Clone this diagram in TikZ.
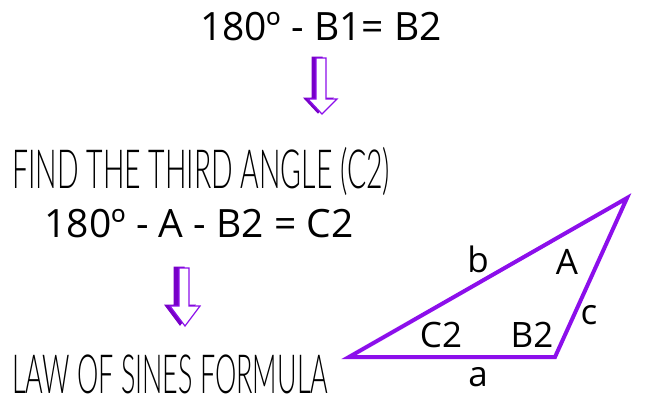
\documentclass[tikz,border=0pt]{standalone}
\usepackage{fontspec}
\setmainfont{Open Sans}
\newfontfamily\handfont{Lato Light}
\definecolor{vio}{RGB}{140,15,235}
\definecolor{viodark}{RGB}{120,0,200}
\tikzset{
  eqtext/.style={font=\fontsize{39bp}{44bp}\selectfont, anchor=base, inner sep=0pt},
  handtext/.style={font=\handfont\fontsize{54bp}{60bp}\selectfont, anchor=base west, inner sep=0pt},
  lbl/.style={font=\fontsize{35bp}{40bp}\selectfont, inner sep=0pt},
  tri/.style={draw=vio, line width=4bp, line join=miter},
  arrowfg/.style={fill=white, draw=vio, line width=1.2bp, line join=miter},
  arrowbg/.style={fill=viodark, draw=viodark, line width=1bp, line join=miter}
}
\begin{document}
\begin{tikzpicture}[x=1bp,y=-1bp]
\useasboundingbox (0,0) rectangle (646,412);
% texts
\node[eqtext] (eq1) at (321,40) {180º - B1= B2};
\node[handtext] (h1) at (12,188) {\resizebox{378bp}{\height}{FIND THE THIRD ANGLE (C2)}};
\node[eqtext] (eq2) at (199,237) {180º - A - B2 = C2};
\node[handtext] (h2) at (12,393) {\resizebox{316bp}{\height}{LAW OF SINES FORMULA}};
% arrow 1
\begin{scope}[shift={(-4,-1)}]
\path[arrowbg] (316,58) -- (326,58) -- (326,99) -- (337,99) -- (322,114) -- (308,99) -- (316,99) -- cycle;
\end{scope}
\path[arrowfg] (316,58) -- (326,58) -- (326,99) -- (337,99) -- (322,114) -- (308,99) -- (316,99) -- cycle;
% arrow 2
\begin{scope}[shift={(-5,-1)}]
\path[arrowbg] (179,268) -- (189,268) -- (189,306) -- (200,306) -- (185,326) -- (170,306) -- (179,306) -- cycle;
\end{scope}
\path[arrowfg] (179,268) -- (189,268) -- (189,306) -- (200,306) -- (185,326) -- (170,306) -- (179,306) -- cycle;
% triangle
\coordinate (L) at (349,357);
\coordinate (R) at (555,357);
\coordinate (T) at (627,198);
\draw[tri] (L) -- (R) -- (T) -- cycle;
\node[lbl] (lb) at (478,259) {b};
\node[lbl] (lA) at (567,262) {A};
\node[lbl] (lC) at (441,335) {C2};
\node[lbl] (lB) at (532,335) {B2};
\node[lbl] (lc) at (589,315) {c};
\node[lbl] (la) at (478,377) {a};
\end{tikzpicture}
\end{document}
